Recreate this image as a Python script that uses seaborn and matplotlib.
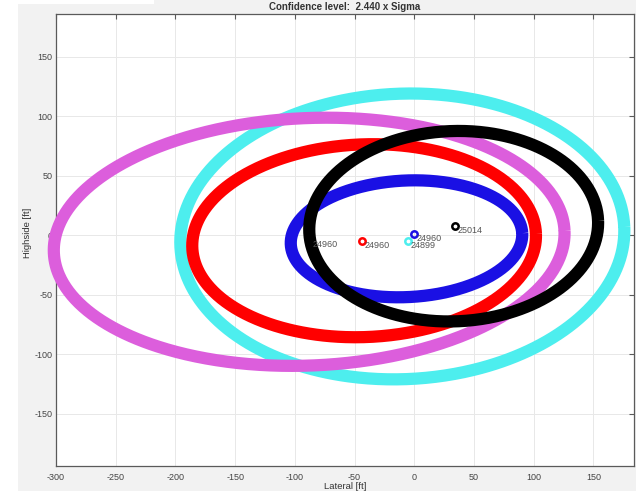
import numpy as np
import pandas as pd
import matplotlib
matplotlib.use("Agg")
import matplotlib.pyplot as plt
from matplotlib.patches import Rectangle
import seaborn as sns

# Uncertainty ellipses (plot order: cyan, magenta, red, blue, black)
station_labels = ["24899", "24960", "24960", "24960", "25014"]
colors = ["#4deeee", "#dc5edc", "#ff0000", "#1a10e4", "#000000"]
center_x = [-10.0, -88.0, -42.0, -6.5, 33.0]
center_y = [-1.0, -5.5, -4.6, -3.0, 7.6]
semi_major = [186.0, 214.0, 144.0, 97.0, 121.0]
semi_minor = [120.0, 104.0, 81.0, 49.0, 80.0]
tilt_deg = [2.5, 2.5, 2.4, 2.8, 2.3]
# Survey station positions
marker_x = [-4.9, -87.0, -43.5, 0.1, 34.5]
marker_y = [-4.6, -3.8, -4.6, 1.3, 7.9]

x_ticks = list(range(-300, 151, 50))
y_ticks = list(range(-150, 151, 50))

sns.set_theme(style="white")
plt.rcParams["font.family"] = ["Liberation Sans", "DejaVu Sans"]
plt.rcParams["axes.unicode_minus"] = False

fig = plt.figure(figsize=(6.36, 4.91), dpi=100, facecolor="#f2f2f2")
fig.patches.append(Rectangle((0, 0), 18 / 636, 1, transform=fig.transFigure,
                             facecolor="white", edgecolor="none", zorder=-1))
fig.patches.append(Rectangle((0, 1 - 4 / 491), 154 / 636, 4 / 491, transform=fig.transFigure,
                             facecolor="white", edgecolor="none", zorder=-1))
ax = fig.add_axes([56 / 636, 1 - 466 / 491, 578 / 636, 452 / 491])
ax.set_facecolor("white")

t = np.linspace(0, 2 * np.pi, 721)
for i in range(len(colors)):
    th = np.deg2rad(tilt_deg[i])
    ex = semi_major[i] * np.cos(t)
    ey = semi_minor[i] * np.sin(t)
    df = pd.DataFrame({
        "Lateral": center_x[i] + ex * np.cos(th) - ey * np.sin(th),
        "Highside": center_y[i] + ex * np.sin(th) + ey * np.cos(th),
    })
    sns.lineplot(data=df, x="Lateral", y="Highside", sort=False, estimator=None,
                 color=colors[i], linewidth=8.8, ax=ax, zorder=3 + i)
    ax.lines[-1].set_clip_on(False)
    ax.lines[-1].set_solid_capstyle("butt")
    ax.plot(marker_x[i], marker_y[i], marker="o", ms=4.6, mfc="none",
            mec=colors[i], mew=1.8, zorder=3 + i, clip_on=False)
    ax.annotate(station_labels[i], (marker_x[i], marker_y[i]),
                xytext=(1.8, -3.6), textcoords="offset points",
                ha="left", va="center", fontsize=6.5, color="#555555", zorder=10)

ax.set_xlim(-300, 184)
ax.set_ylim(-194, 186)
ax.set_xticks(x_ticks)
ax.set_yticks(y_ticks)
ax.grid(True, color="#e8e8e8", linewidth=0.7)
ax.set_axisbelow(True)
for s in ax.spines.values():
    s.set_color("#5a5a5a")
    s.set_linewidth(0.9)
ax.tick_params(axis="both", direction="in", length=3.5, width=0.8, color="#5a5a5a",
               top=True, right=True, labelsize=6.5, labelcolor="#444444")
ax.tick_params(axis="x", pad=5)
ax.tick_params(axis="y", pad=2.5)

ax.set_xlabel("Lateral [ft]", fontsize=6.8, color="#333333")
ax.set_ylabel("Highside [ft]", fontsize=6.8, color="#333333")
ax.xaxis.set_label_coords(0.5, -0.046)
ax.yaxis.set_label_coords(-0.050, 0.515)
ax.xaxis.label.set_va("center")
ax.yaxis.label.set_va("center")

fig.text(345 / 636, 1 - 7 / 491, "Confidence level:  2.440 x Sigma", ha="center",
         va="center", fontsize=7, fontweight="bold", color="#333333")

fig.savefig("out.png", dpi=100, facecolor=fig.get_facecolor())
